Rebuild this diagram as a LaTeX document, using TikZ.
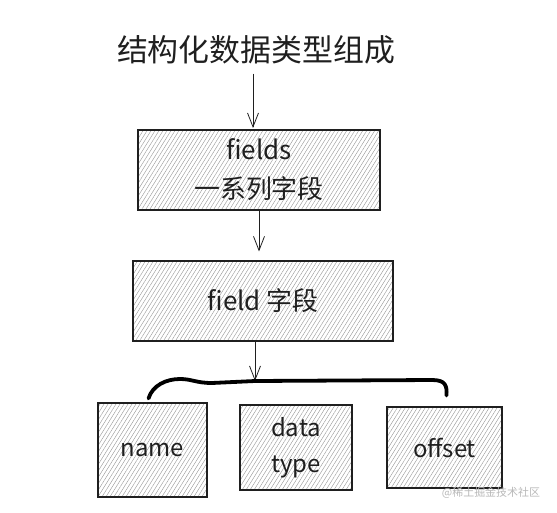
\documentclass[tikz,border=0pt]{standalone}
\usepackage{fontspec}
\setmainfont{Noto Sans CJK SC}
\usetikzlibrary{arrows.meta,patterns.meta}
\definecolor{Hatch}{rgb}{0.58, 0.58, 0.58}
\definecolor{Ink}{rgb}{0.12, 0.12, 0.12}

\begin{document}
\begin{tikzpicture}[
  x=1bp, y=-1bp,
  every node/.style={inner sep=0pt, text=Ink},
  hatchbox/.style={draw=Ink, line width=1.1bp, align=center,
    pattern={Lines[angle=58, distance=3.4pt, line width=0.4pt]},
    pattern color=Hatch},
  sketchar/.style={draw=Ink, line width=0.8bp,
    -{Straight Barb[length=14bp, width=11bp]}},
  brace/.style={draw=black, line width=3.8bp, line cap=round, line join=round}
]
\useasboundingbox (0,0) rectangle (557,513);

% ============================================================
% Title and upper chain
% ============================================================
\node[font=\fontsize{31}{36}\selectfont] (title) at (256,50) {结构化数据类型组成};

\node[hatchbox, minimum width=242bp, minimum height=80bp,
  font=\fontsize{26}{39}\selectfont] (fields) at (259,170) {fields\\一系列字段};

\node[hatchbox, minimum width=260bp, minimum height=80bp,
  font=\fontsize{26}{32}\selectfont] (field) at (263,301) {field 字段};

\draw[sketchar, shorten <=9bp] (title.south -| 253,0) -- (253,128);
\draw[sketchar, shorten >=9bp] (fields.south -| 259,0) -- (field.north -| 259,0);

% ============================================================
% Members
% ============================================================
\tikzset{every node/.append style={font=\fontsize{24}{36}\selectfont}}
\node[hatchbox, minimum width=109bp, minimum height=94bp] (name) at (152.5,450) {name};
\node[hatchbox, minimum width=112bp, minimum height=85bp] (dtype) at (296,447.5) {data\\type};
\node[hatchbox, minimum width=115bp, minimum height=81bp] (offset) at (444.5,447.5) {offset};

% brace joining the members
\coordinate (junc) at (255,381);
\draw[sketchar] (field.south -| junc) -- (junc);
\draw[brace] ([shift={(-4,-4)}]name.north)
  .. controls +(4,-13) and +(-14,0) .. (180,379)
  .. controls (192,379) and (196,383) .. (212,383)
  -- (junc) -- (432,380)
  .. controls (446,380) and (447,386) .. ([shift={(2,-11)}]offset.north);

% watermark
\node[text=black!28, font=\fontsize{11}{13}\selectfont] (mark) at (491,493) {@稀土掘金技术社区};

\end{tikzpicture}
\end{document}
